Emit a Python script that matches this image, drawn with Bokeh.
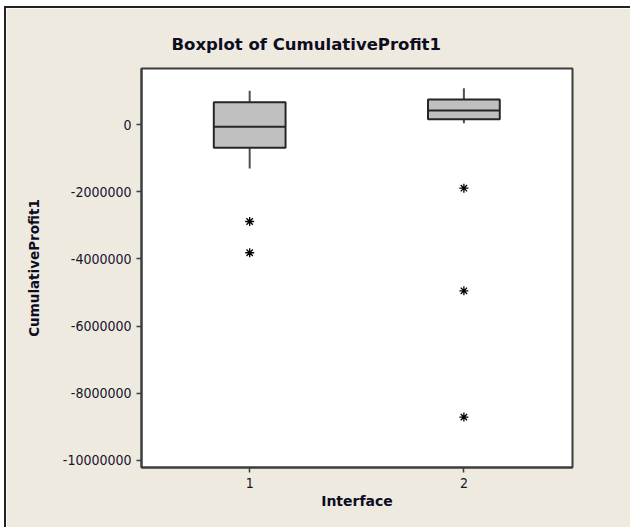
from bokeh.plotting import figure
from bokeh.models import FixedTicker, NumeralTickFormatter, Range1d, Title
from bokeh.embed import file_html
from bokeh.resources import INLINE

# Box summaries for each interface group
interfaces = [1, 2]
q1 = [-693000, 158000]
median = [-68000, 417000]
q3 = [664000, 744000]
whisker_low = [-1310000, 39000]
whisker_high = [1003000, 1080000]

# Outliers (interface, value)
outlier_x = [1, 1, 2, 2, 2]
outlier_y = [-2887000, -3818000, -1896000, -4950000, -8710000]

y_ticks = [0, -2000000, -4000000, -6000000, -8000000, -10000000]
x_ticks = [1, 2]

BG = "#EEEAE0"
FRAME = "#3d3d3d"
TXT = "#14142c"
BOX_W = 0.335

p = figure(width=626, height=521, output_backend="svg", toolbar_location=None,
           x_range=Range1d(0.495, 2.507), y_range=Range1d(-10210000, 1667000),
           min_border_left=135, min_border_right=60, min_border_top=60,
           min_border_bottom=62)
p.styles = {"margin-left": "4px", "margin-top": "6px",
            "border-left": "2px solid #222", "border-top": "2px solid #222"}

p.background_fill_color = "white"
p.border_fill_color = BG
p.outline_line_color = FRAME
p.outline_line_width = 2
p.xgrid.visible = False
p.ygrid.visible = False

p.add_layout(Title(text="Boxplot of CumulativeProfit1", align="left", offset=30,
                   text_font="DejaVu Sans", text_font_style="bold",
                   text_font_size="16.5px", text_color="#0d0d1f", standoff=29),
             "above")

# whiskers
p.segment(x0=interfaces, y0=whisker_low, x1=interfaces, y1=q1,
          line_color="#505050", line_width=2)
p.segment(x0=interfaces, y0=q3, x1=interfaces, y1=whisker_high,
          line_color="#505050", line_width=2)
# boxes
p.vbar(x=interfaces, width=BOX_W, bottom=q1, top=q3,
       fill_color="#C0C0C0", line_color="#262626", line_width=2)
# medians
p.segment(x0=[x - BOX_W / 2 for x in interfaces], y0=median,
          x1=[x + BOX_W / 2 for x in interfaces], y1=median,
          line_color="#262626", line_width=2)
# outliers
p.scatter(x=outlier_x, y=outlier_y, marker="asterisk", size=9,
          line_color="black", line_width=1.3)

for ax in (p.xaxis[0], p.yaxis[0]):
    ax.axis_line_color = FRAME
    ax.axis_line_width = 2
    ax.major_tick_line_color = FRAME
    ax.major_tick_line_width = 1.5
    ax.major_tick_in = 0
    ax.major_tick_out = 5
    ax.minor_tick_line_color = None
    ax.major_label_text_font = "DejaVu Sans Condensed"
    ax.major_label_text_font_size = "14px"
    ax.major_label_text_color = TXT
    ax.major_label_standoff = 5
    ax.axis_label_text_font = "DejaVu Sans"
    ax.axis_label_text_font_style = "bold"
    ax.axis_label_text_color = "#0d0d1f"

p.yaxis.ticker = FixedTicker(ticks=y_ticks)
p.yaxis.formatter = NumeralTickFormatter(format="0")
p.yaxis.axis_label = "CumulativeProfit1"
p.yaxis.axis_label_text_font_size = "13.5px"
p.yaxis.axis_label_standoff = 18

p.xaxis.ticker = FixedTicker(ticks=x_ticks)
p.xaxis.axis_label = "Interface"
p.xaxis.axis_label_text_font_size = "14px"
p.xaxis.axis_label_standoff = 2

open("out.html", "w").write(file_html(p, INLINE))
